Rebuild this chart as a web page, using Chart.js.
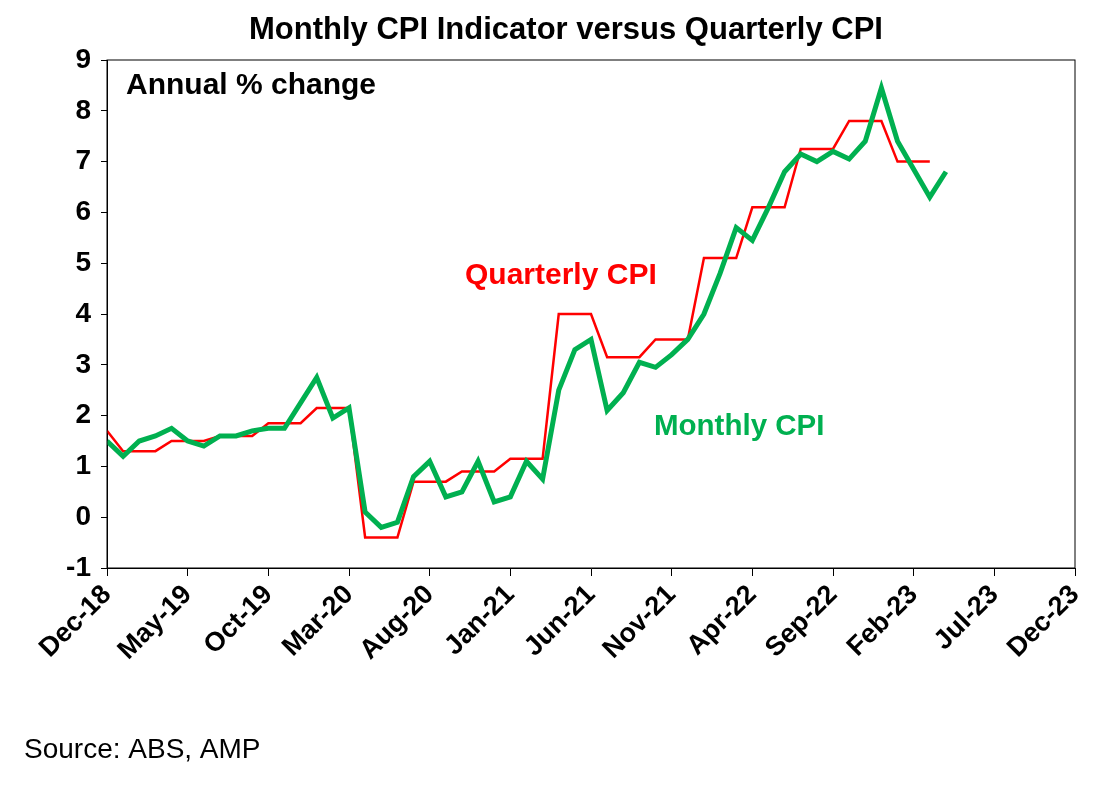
<!DOCTYPE html>
<html>
<head>
<meta charset="utf-8">
<script src="https://cdn.jsdelivr.net/npm/chart.js@4"></script>
<style>
  body { margin: 0; background: #fff; }
  #wrap { width: 1108px; height: 788px; }
</style>
</head>
<body>
<div id="wrap"><canvas id="cpi" width="1108" height="788"></canvas></div>
<script>
// Month index 0 = Dec-18
const tickLabels = ['Dec-18', 'May-19', 'Oct-19', 'Mar-20', 'Aug-20', 'Jan-21', 'Jun-21',
                    'Nov-21', 'Apr-22', 'Sep-22', 'Feb-23', 'Jul-23', 'Dec-23'];
const monthlyCPI = [1.5, 1.2, 1.5, 1.6, 1.75, 1.5, 1.4, 1.6, 1.6, 1.7, 1.75, 1.75,
                    2.25, 2.75, 1.95, 2.15, 0.1, -0.2, -0.1, 0.8, 1.1, 0.4, 0.5, 1.1,
                    0.3, 0.4, 1.1, 0.75, 2.5, 3.3, 3.5, 2.1, 2.45, 3.05, 2.95, 3.2,
                    3.5, 4.0, 4.8, 5.7, 5.45, 6.1, 6.8, 7.15, 7.0, 7.2, 7.05, 7.4,
                    8.45, 7.4, 6.85, 6.3, 6.8];
const quarterlyCPI = [1.7, 1.3, 1.3, 1.3, 1.5, 1.5, 1.5, 1.6, 1.6, 1.6, 1.85, 1.85,
                      1.85, 2.15, 2.15, 2.15, -0.4, -0.4, -0.4, 0.7, 0.7, 0.7, 0.9, 0.9,
                      0.9, 1.15, 1.15, 1.15, 4.0, 4.0, 4.0, 3.15, 3.15, 3.15, 3.5, 3.5,
                      3.5, 5.1, 5.1, 5.1, 6.1, 6.1, 6.1, 7.25, 7.25, 7.25, 7.8, 7.8,
                      7.8, 7.0, 7.0, 7.0];

const toPoints = arr => arr.map((v, i) => ({ x: i, y: v }));
const FONT = '"Liberation Sans", Arial, sans-serif';

// Box, title and text annotations
const decorations = {
    id: 'decorations',
    afterDraw(chart) {
        const { ctx, chartArea: a } = chart;
        ctx.save();
        ctx.strokeStyle = '#000';
        ctx.lineWidth = 1;
        ctx.strokeRect(a.left, a.top, a.right - a.left, a.bottom - a.top);
        ctx.textBaseline = 'middle';
        ctx.fillStyle = '#000';
        ctx.textAlign = 'center';
        ctx.font = 'bold 31px ' + FONT;
        ctx.fillText('Monthly CPI Indicator versus Quarterly CPI', 566, 30);
        ctx.textAlign = 'left';
        ctx.font = 'bold 30px ' + FONT;
        ctx.fillText('Annual % change', 126, 86);
        ctx.fillStyle = '#ff0000';
        ctx.fillText('Quarterly CPI', 465, 276);
        ctx.fillStyle = '#00b050';
        ctx.font = 'bold 29.5px ' + FONT;
        ctx.fillText('Monthly CPI', 654, 427);
        ctx.fillStyle = '#000';
        ctx.font = '28px ' + FONT;
        ctx.fillText('Source: ABS, AMP', 24, 750);
        ctx.restore();
    }
};

new Chart(document.getElementById('cpi'), {
    type: 'line',
    data: {
        datasets: [{
            label: 'Monthly CPI',
            data: toPoints(monthlyCPI),
            borderColor: '#00b050',
            borderWidth: 5,
            pointRadius: 0,
            tension: 0
        }, {
            label: 'Quarterly CPI',
            data: toPoints(quarterlyCPI),
            borderColor: '#ff0000',
            borderWidth: 2.5,
            pointRadius: 0,
            tension: 0
        }]
    },
    options: {
        responsive: false,
        animation: false,
        layout: { padding: { top: 60, right: 33, bottom: 0, left: 0 } },
        plugins: { legend: { display: false }, title: { display: false }, tooltip: { enabled: false } },
        scales: {
            x: {
                type: 'linear',
                min: 0,
                max: 60,
                afterFit: s => { s.height = 220; },
                afterBuildTicks: s => { s.ticks = tickLabels.map((_, i) => ({ value: i * 5 })); },
                ticks: {
                    color: '#000',
                    font: { family: FONT, size: 27, weight: 'bold' },
                    minRotation: 45,
                    maxRotation: 45,
                    callback: v => tickLabels[v / 5]
                },
                grid: { drawOnChartArea: false, drawTicks: true, tickLength: 8, color: '#000' },
                border: { color: '#000' }
            },
            y: {
                min: -1,
                max: 9,
                afterFit: s => { s.width = 107; },
                ticks: {
                    stepSize: 1,
                    color: '#000',
                    font: { family: FONT, size: 28, weight: 'bold' },
                    padding: 10
                },
                grid: { drawOnChartArea: false, drawTicks: true, tickLength: 6, color: '#000' },
                border: { color: '#000' }
            }
        }
    },
    plugins: [decorations]
});
</script>
</body>
</html>
